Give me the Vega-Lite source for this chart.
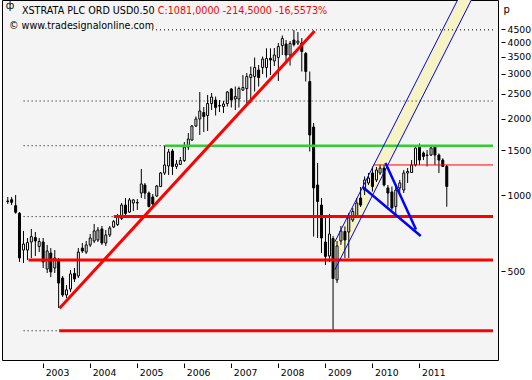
{
"$schema": "https://vega.github.io/schema/vega-lite/v6.json",
"width": 496, "height": 360,
"autosize": {"type": "none"},
"padding": {"left": 2, "top": 0, "right": 34, "bottom": 20},
"background": "#ffffff",
"config": {"view": {"fill": "#f4f4f4", "stroke": "#000000", "strokeWidth": 1}},
"datasets": {
"candles": [
{"date":"2002-04-01","open":947,"high":982,"low":922,"close":943},
{"date":"2002-05-01","open":958,"high":982,"low":913,"close":936},
{"date":"2002-06-01","open":908,"high":1000,"low":844,"close":855},
{"date":"2002-07-01","open":847,"high":857,"low":545,"close":565},
{"date":"2002-08-01","open":607,"high":722,"low":540,"close":641},
{"date":"2002-09-01","open":607,"high":677,"low":555,"close":650},
{"date":"2002-10-01","open":653,"high":735,"low":565,"close":686},
{"date":"2002-11-01","open":680,"high":715,"low":575,"close":659},
{"date":"2002-12-01","open":627,"high":677,"low":596,"close":656},
{"date":"2003-01-01","open":653,"high":677,"low":516,"close":545},
{"date":"2003-02-01","open":511,"high":636,"low":493,"close":602},
{"date":"2003-03-01","open":591,"high":618,"low":475,"close":498},
{"date":"2003-04-01","open":516,"high":607,"low":493,"close":565},
{"date":"2003-05-01","open":550,"high":565,"low":359,"close":450},
{"date":"2003-06-01","open":471,"high":480,"low":397,"close":404},
{"date":"2003-07-01","open":404,"high":442,"low":393,"close":423},
{"date":"2003-08-01","open":426,"high":507,"low":415,"close":489},
{"date":"2003-09-01","open":491,"high":516,"low":454,"close":467},
{"date":"2003-10-01","open":480,"high":618,"low":471,"close":596},
{"date":"2003-11-01","open":618,"high":647,"low":591,"close":602},
{"date":"2003-12-01","open":596,"high":659,"low":586,"close":636},
{"date":"2004-01-01","open":636,"high":702,"low":624,"close":677},
{"date":"2004-02-01","open":659,"high":769,"low":647,"close":722},
{"date":"2004-03-01","open":665,"high":748,"low":653,"close":728},
{"date":"2004-04-01","open":735,"high":755,"low":636,"close":647},
{"date":"2004-05-01","open":647,"high":728,"low":630,"close":696},
{"date":"2004-06-01","open":696,"high":755,"low":683,"close":741},
{"date":"2004-07-01","open":748,"high":797,"low":741,"close":786},
{"date":"2004-08-01","open":765,"high":842,"low":755,"close":819},
{"date":"2004-09-01","open":809,"high":930,"low":797,"close":913},
{"date":"2004-10-01","open":913,"high":973,"low":834,"close":846},
{"date":"2004-11-01","open":857,"high":973,"low":850,"close":956},
{"date":"2004-12-01","open":930,"high":964,"low":865,"close":956},
{"date":"2005-01-01","open":934,"high":964,"low":873,"close":930},
{"date":"2005-02-01","open":1018,"high":1266,"low":973,"close":1105},
{"date":"2005-03-01","open":1095,"high":1115,"low":964,"close":1018},
{"date":"2005-04-01","open":1018,"high":1032,"low":893,"close":901},
{"date":"2005-05-01","open":982,"high":1009,"low":905,"close":922},
{"date":"2005-06-01","open":991,"high":1095,"low":982,"close":1085},
{"date":"2005-07-01","open":1080,"high":1232,"low":1075,"close":1221},
{"date":"2005-08-01","open":1221,"high":1559,"low":1199,"close":1313},
{"date":"2005-09-01","open":1301,"high":1517,"low":1199,"close":1477},
{"date":"2005-10-01","open":1490,"high":1517,"low":1199,"close":1295},
{"date":"2005-11-01","open":1295,"high":1373,"low":1266,"close":1325},
{"date":"2005-12-01","open":1319,"high":1411,"low":1313,"close":1367},
{"date":"2006-01-01","open":1367,"high":1617,"low":1349,"close":1545},
{"date":"2006-02-01","open":1545,"high":1754,"low":1504,"close":1661},
{"date":"2006-03-01","open":1646,"high":1886,"low":1632,"close":1869},
{"date":"2006-04-01","open":1869,"high":2037,"low":1852,"close":1992},
{"date":"2006-05-01","open":1992,"high":2544,"low":1723,"close":2142},
{"date":"2006-06-01","open":2113,"high":2221,"low":1770,"close":2037},
{"date":"2006-07-01","open":2056,"high":2476,"low":1787,"close":2292},
{"date":"2006-08-01","open":2292,"high":2521,"low":2161,"close":2431},
{"date":"2006-09-01","open":2366,"high":2442,"low":2056,"close":2211},
{"date":"2006-10-01","open":2251,"high":2366,"low":2122,"close":2241},
{"date":"2006-11-01","open":2231,"high":2345,"low":2103,"close":2282},
{"date":"2006-12-01","open":2292,"high":2567,"low":2231,"close":2544},
{"date":"2007-01-01","open":2614,"high":2638,"low":2211,"close":2366},
{"date":"2007-02-01","open":2388,"high":2674,"low":2161,"close":2442},
{"date":"2007-03-01","open":2388,"high":2674,"low":2211,"close":2626},
{"date":"2007-04-01","open":2591,"high":2968,"low":2567,"close":2650},
{"date":"2007-05-01","open":2626,"high":3022,"low":2261,"close":2928},
{"date":"2007-06-01","open":2901,"high":3206,"low":2303,"close":2982},
{"date":"2007-07-01","open":2928,"high":3478,"low":2556,"close":3177},
{"date":"2007-08-01","open":3106,"high":3250,"low":2674,"close":2901},
{"date":"2007-09-01","open":3177,"high":3510,"low":2995,"close":3431},
{"date":"2007-10-01","open":3177,"high":3781,"low":2901,"close":3447},
{"date":"2007-11-01","open":3453,"high":3781,"low":2968,"close":3400},
{"date":"2007-12-01","open":3370,"high":3791,"low":3220,"close":3558},
{"date":"2008-01-01","open":3478,"high":3967,"low":2811,"close":3843},
{"date":"2008-02-01","open":3878,"high":4246,"low":3558,"close":4132},
{"date":"2008-03-01","open":3931,"high":4076,"low":3339,"close":3558},
{"date":"2008-04-01","open":3558,"high":4040,"low":3235,"close":3949},
{"date":"2008-05-01","open":4076,"high":4463,"low":3843,"close":3913},
{"date":"2008-06-01","open":3967,"high":4383,"low":3896,"close":4040},
{"date":"2008-07-01","open":3967,"high":4151,"low":3064,"close":3674},
{"date":"2008-08-01","open":3607,"high":3657,"low":2798,"close":3064},
{"date":"2008-09-01","open":2798,"high":3064,"low":1484,"close":1723},
{"date":"2008-10-01","open":1852,"high":1921,"low":686,"close":1066},
{"date":"2008-11-01","open":1095,"high":1337,"low":677,"close":943},
{"date":"2008-12-01","open":913,"high":973,"low":591,"close":677},
{"date":"2009-01-01","open":653,"high":823,"low":530,"close":573},
{"date":"2009-02-01","open":575,"high":842,"low":545,"close":702},
{"date":"2009-03-01","open":674,"high":690,"low":294,"close":469},
{"date":"2009-04-01","open":463,"high":659,"low":450,"close":630},
{"date":"2009-05-01","open":659,"high":755,"low":636,"close":722},
{"date":"2009-06-01","open":718,"high":752,"low":565,"close":665},
{"date":"2009-07-01","open":715,"high":850,"low":565,"close":812},
{"date":"2009-08-01","open":797,"high":889,"low":783,"close":861},
{"date":"2009-09-01","open":823,"high":973,"low":812,"close":930},
{"date":"2009-10-01","open":973,"high":1075,"low":897,"close":913},
{"date":"2009-11-01","open":1046,"high":1183,"low":1000,"close":1146},
{"date":"2009-12-01","open":1115,"high":1221,"low":1095,"close":1166},
{"date":"2010-01-01","open":1221,"high":1295,"low":1032,"close":1080},
{"date":"2010-02-01","open":1146,"high":1289,"low":1125,"close":1254},
{"date":"2010-03-01","open":1221,"high":1313,"low":1199,"close":1277},
{"date":"2010-04-01","open":1277,"high":1313,"low":1080,"close":1095},
{"date":"2010-05-01","open":1066,"high":1095,"low":901,"close":1018},
{"date":"2010-06-01","open":1028,"high":1080,"low":873,"close":889},
{"date":"2010-07-01","open":901,"high":1095,"low":834,"close":1046},
{"date":"2010-08-01","open":1066,"high":1146,"low":1028,"close":1115},
{"date":"2010-09-01","open":1046,"high":1254,"low":1018,"close":1221},
{"date":"2010-10-01","open":1221,"high":1277,"low":1115,"close":1238},
{"date":"2010-11-01","open":1226,"high":1373,"low":1221,"close":1313},
{"date":"2010-12-01","open":1313,"high":1573,"low":1295,"close":1531},
{"date":"2011-01-01","open":1545,"high":1595,"low":1313,"close":1373},
{"date":"2011-02-01","open":1464,"high":1484,"low":1373,"close":1418},
{"date":"2011-03-01","open":1437,"high":1504,"low":1295,"close":1431},
{"date":"2011-04-01","open":1437,"high":1559,"low":1424,"close":1531},
{"date":"2011-05-01","open":1545,"high":1552,"low":1313,"close":1437},
{"date":"2011-06-01","open":1437,"high":1457,"low":1221,"close":1373},
{"date":"2011-07-01","open":1373,"high":1395,"low":1289,"close":1295.5},
{"date":"2011-08-01","open":1295.5,"high":1313,"low":899,"close":1081}
],
"dotted": [
{"start":"2005-04-25","end":"2012-07-25","price":4470},
{"start":"2002-08-02","end":"2012-07-25","price":2345},
{"start":"2002-08-02","end":"2005-08-04","price":1564},
{"start":"2002-08-02","end":"2004-07-02","price":822},
{"start":"2002-08-02","end":"2003-05-05","price":292}
],
"redLevels": [
{"start":"2004-07-02","end":"2012-07-25","price":822},
{"start":"2002-09-09","end":"2012-07-25","price":555},
{"start":"2003-05-05","end":"2012-07-25","price":292}
],
"greenLevel": [{"start":"2005-08-04","end":"2012-07-25","price":1564}],
"thinRed": [{"start":"2010-01-08","end":"2012-07-25","price":1313}],
"trend": [{"start":"2003-05-08","p1":358,"end":"2008-10-09","p2":4423}],
"channel": [
{"date":"2009-03-14","upper":653,"lower":507},
{"date":"2012-02-08","upper":7496,"lower":5860}
],
"channelLines": [
{"start":"2009-03-14","p1":653,"end":"2012-02-08","p2":7496},
{"start":"2009-03-14","p1":507,"end":"2012-02-08","p2":5860}
],
"blueThick": [
{"start":"2009-10-17","p1":1075,"end":"2011-01-11","p2":690},
{"start":"2010-04-12","p1":1337,"end":"2010-12-05","p2":732}
]
},
"layer": [
{"data": {"name": "channel"},
 "mark": {"type": "area", "fill": "#f6f4c4", "clip": true},
 "encoding": {
  "x": {"field": "date", "type": "temporal", "scale": {"type": "utc", "domain": [{"year":2002,"month":3,"date":26,"utc":true},{"year":2012,"month":7,"date":25,"utc":true}]},
        "axis": {"title": null, "values": [{"year":2003,"utc":true},{"year":2004,"utc":true},{"year":2005,"utc":true},{"year":2006,"utc":true},{"year":2007,"utc":true},{"year":2008,"utc":true},{"year":2009,"utc":true},{"year":2010,"utc":true},{"year":2011,"utc":true}], "format": "%Y", "formatType": "utc", "domain": false, "grid": false, "tickSize": 4.5, "tickColor": "#000000", "offset": 3, "labelAlign": "left", "labelBaseline": "top", "labelOffset": 2, "labelPadding": 1, "labelFont": "DejaVu Sans", "labelFontSize": 9.3, "labelColor": "#000000", "labelFlush": false, "labelOverlap": false}},
  "y": {"field": "upper", "type": "quantitative", "scale": {"type": "log", "domain": [224, 5860], "nice": false},
        "axis": {"orient": "right", "title": "p", "titleAngle": 0, "titleAlign": "left", "titleBaseline": "alphabetic", "titleX": 2, "titleY": 12, "titleFont": "DejaVu Sans", "titleFontSize": 10, "titleFontWeight": "normal", "titleColor": "#000000", "values": [500,1000,1500,2000,2500,3000,3500,4000,4500], "format": "d", "domain": false, "grid": false, "tickSize": 4, "tickColor": "#000000", "offset": 3, "labelPadding": 2, "labelFont": "DejaVu Sans", "labelFontSize": 9.3, "labelColor": "#000000", "labelFlush": false, "labelOverlap": false}},
  "y2": {"field": "lower"}
 }},
{"data": {"name": "candles"},
 "mark": {"type": "rule", "color": "#000000", "strokeWidth": 1},
 "encoding": {
  "x": {"field": "date", "type": "temporal", "scale": {"type": "utc", "domain": [{"year":2002,"month":3,"date":26,"utc":true},{"year":2012,"month":7,"date":25,"utc":true}]},
        "axis": {"title": null, "values": [{"year":2003,"utc":true},{"year":2004,"utc":true},{"year":2005,"utc":true},{"year":2006,"utc":true},{"year":2007,"utc":true},{"year":2008,"utc":true},{"year":2009,"utc":true},{"year":2010,"utc":true},{"year":2011,"utc":true}], "format": "%Y", "formatType": "utc", "domain": false, "grid": false, "tickSize": 4.5, "tickColor": "#000000", "offset": 3, "labelAlign": "left", "labelBaseline": "top", "labelOffset": 2, "labelPadding": 1, "labelFont": "DejaVu Sans", "labelFontSize": 9.3, "labelColor": "#000000", "labelFlush": false, "labelOverlap": false}},
  "y": {"field": "low", "type": "quantitative", "scale": {"type": "log", "domain": [224, 5860], "nice": false},
        "axis": {"orient": "right", "title": "p", "titleAngle": 0, "titleAlign": "left", "titleBaseline": "alphabetic", "titleX": 2, "titleY": 12, "titleFont": "DejaVu Sans", "titleFontSize": 10, "titleFontWeight": "normal", "titleColor": "#000000", "values": [500,1000,1500,2000,2500,3000,3500,4000,4500], "format": "d", "domain": false, "grid": false, "tickSize": 4, "tickColor": "#000000", "offset": 3, "labelPadding": 2, "labelFont": "DejaVu Sans", "labelFontSize": 9.3, "labelColor": "#000000", "labelFlush": false, "labelOverlap": false}},
  "y2": {"field": "high"}
 }},
{"data": {"name": "candles"},
 "mark": {"type": "bar", "size": 2, "stroke": "#000000", "strokeWidth": 1, "orient": "vertical"},
 "encoding": {
  "x": {"field": "date", "type": "temporal", "scale": {"type": "utc", "domain": [{"year":2002,"month":3,"date":26,"utc":true},{"year":2012,"month":7,"date":25,"utc":true}]},
        "axis": {"title": null, "values": [{"year":2003,"utc":true},{"year":2004,"utc":true},{"year":2005,"utc":true},{"year":2006,"utc":true},{"year":2007,"utc":true},{"year":2008,"utc":true},{"year":2009,"utc":true},{"year":2010,"utc":true},{"year":2011,"utc":true}], "format": "%Y", "formatType": "utc", "domain": false, "grid": false, "tickSize": 4.5, "tickColor": "#000000", "offset": 3, "labelAlign": "left", "labelBaseline": "top", "labelOffset": 2, "labelPadding": 1, "labelFont": "DejaVu Sans", "labelFontSize": 9.3, "labelColor": "#000000", "labelFlush": false, "labelOverlap": false}},
  "y": {"field": "open", "type": "quantitative", "scale": {"type": "log", "domain": [224, 5860], "nice": false},
        "axis": {"orient": "right", "title": "p", "titleAngle": 0, "titleAlign": "left", "titleBaseline": "alphabetic", "titleX": 2, "titleY": 12, "titleFont": "DejaVu Sans", "titleFontSize": 10, "titleFontWeight": "normal", "titleColor": "#000000", "values": [500,1000,1500,2000,2500,3000,3500,4000,4500], "format": "d", "domain": false, "grid": false, "tickSize": 4, "tickColor": "#000000", "offset": 3, "labelPadding": 2, "labelFont": "DejaVu Sans", "labelFontSize": 9.3, "labelColor": "#000000", "labelFlush": false, "labelOverlap": false}},
  "y2": {"field": "close"},
  "fill": {"condition": {"test": "datum.close >= datum.open", "value": "#ffffff"}, "value": "#000000"}
 }},
{"data": {"name": "dotted"},
 "mark": {"type": "rule", "color": "#000000", "strokeWidth": 1, "strokeDash": [1, 3]},
 "encoding": {
  "x": {"field": "start", "type": "temporal", "scale": {"type": "utc", "domain": [{"year":2002,"month":3,"date":26,"utc":true},{"year":2012,"month":7,"date":25,"utc":true}]},
        "axis": {"title": null, "values": [{"year":2003,"utc":true},{"year":2004,"utc":true},{"year":2005,"utc":true},{"year":2006,"utc":true},{"year":2007,"utc":true},{"year":2008,"utc":true},{"year":2009,"utc":true},{"year":2010,"utc":true},{"year":2011,"utc":true}], "format": "%Y", "formatType": "utc", "domain": false, "grid": false, "tickSize": 4.5, "tickColor": "#000000", "offset": 3, "labelAlign": "left", "labelBaseline": "top", "labelOffset": 2, "labelPadding": 1, "labelFont": "DejaVu Sans", "labelFontSize": 9.3, "labelColor": "#000000", "labelFlush": false, "labelOverlap": false}},
  "x2": {"field": "end"},
  "y": {"field": "price", "type": "quantitative", "scale": {"type": "log", "domain": [224, 5860], "nice": false},
        "axis": {"orient": "right", "title": "p", "titleAngle": 0, "titleAlign": "left", "titleBaseline": "alphabetic", "titleX": 2, "titleY": 12, "titleFont": "DejaVu Sans", "titleFontSize": 10, "titleFontWeight": "normal", "titleColor": "#000000", "values": [500,1000,1500,2000,2500,3000,3500,4000,4500], "format": "d", "domain": false, "grid": false, "tickSize": 4, "tickColor": "#000000", "offset": 3, "labelPadding": 2, "labelFont": "DejaVu Sans", "labelFontSize": 9.3, "labelColor": "#000000", "labelFlush": false, "labelOverlap": false}}
 }},
{"data": {"name": "redLevels"},
 "mark": {"type": "rule", "color": "#ff0000", "strokeWidth": 3},
 "encoding": {
  "x": {"field": "start", "type": "temporal", "scale": {"type": "utc", "domain": [{"year":2002,"month":3,"date":26,"utc":true},{"year":2012,"month":7,"date":25,"utc":true}]},
        "axis": {"title": null, "values": [{"year":2003,"utc":true},{"year":2004,"utc":true},{"year":2005,"utc":true},{"year":2006,"utc":true},{"year":2007,"utc":true},{"year":2008,"utc":true},{"year":2009,"utc":true},{"year":2010,"utc":true},{"year":2011,"utc":true}], "format": "%Y", "formatType": "utc", "domain": false, "grid": false, "tickSize": 4.5, "tickColor": "#000000", "offset": 3, "labelAlign": "left", "labelBaseline": "top", "labelOffset": 2, "labelPadding": 1, "labelFont": "DejaVu Sans", "labelFontSize": 9.3, "labelColor": "#000000", "labelFlush": false, "labelOverlap": false}},
  "x2": {"field": "end"},
  "y": {"field": "price", "type": "quantitative", "scale": {"type": "log", "domain": [224, 5860], "nice": false},
        "axis": {"orient": "right", "title": "p", "titleAngle": 0, "titleAlign": "left", "titleBaseline": "alphabetic", "titleX": 2, "titleY": 12, "titleFont": "DejaVu Sans", "titleFontSize": 10, "titleFontWeight": "normal", "titleColor": "#000000", "values": [500,1000,1500,2000,2500,3000,3500,4000,4500], "format": "d", "domain": false, "grid": false, "tickSize": 4, "tickColor": "#000000", "offset": 3, "labelPadding": 2, "labelFont": "DejaVu Sans", "labelFontSize": 9.3, "labelColor": "#000000", "labelFlush": false, "labelOverlap": false}}
 }},
{"data": {"name": "greenLevel"},
 "mark": {"type": "rule", "color": "#33cc33", "strokeWidth": 2.5},
 "encoding": {
  "x": {"field": "start", "type": "temporal", "scale": {"type": "utc", "domain": [{"year":2002,"month":3,"date":26,"utc":true},{"year":2012,"month":7,"date":25,"utc":true}]},
        "axis": {"title": null, "values": [{"year":2003,"utc":true},{"year":2004,"utc":true},{"year":2005,"utc":true},{"year":2006,"utc":true},{"year":2007,"utc":true},{"year":2008,"utc":true},{"year":2009,"utc":true},{"year":2010,"utc":true},{"year":2011,"utc":true}], "format": "%Y", "formatType": "utc", "domain": false, "grid": false, "tickSize": 4.5, "tickColor": "#000000", "offset": 3, "labelAlign": "left", "labelBaseline": "top", "labelOffset": 2, "labelPadding": 1, "labelFont": "DejaVu Sans", "labelFontSize": 9.3, "labelColor": "#000000", "labelFlush": false, "labelOverlap": false}},
  "x2": {"field": "end"},
  "y": {"field": "price", "type": "quantitative", "scale": {"type": "log", "domain": [224, 5860], "nice": false},
        "axis": {"orient": "right", "title": "p", "titleAngle": 0, "titleAlign": "left", "titleBaseline": "alphabetic", "titleX": 2, "titleY": 12, "titleFont": "DejaVu Sans", "titleFontSize": 10, "titleFontWeight": "normal", "titleColor": "#000000", "values": [500,1000,1500,2000,2500,3000,3500,4000,4500], "format": "d", "domain": false, "grid": false, "tickSize": 4, "tickColor": "#000000", "offset": 3, "labelPadding": 2, "labelFont": "DejaVu Sans", "labelFontSize": 9.3, "labelColor": "#000000", "labelFlush": false, "labelOverlap": false}}
 }},
{"data": {"name": "thinRed"},
 "mark": {"type": "rule", "color": "#ff0000", "strokeWidth": 1},
 "encoding": {
  "x": {"field": "start", "type": "temporal", "scale": {"type": "utc", "domain": [{"year":2002,"month":3,"date":26,"utc":true},{"year":2012,"month":7,"date":25,"utc":true}]},
        "axis": {"title": null, "values": [{"year":2003,"utc":true},{"year":2004,"utc":true},{"year":2005,"utc":true},{"year":2006,"utc":true},{"year":2007,"utc":true},{"year":2008,"utc":true},{"year":2009,"utc":true},{"year":2010,"utc":true},{"year":2011,"utc":true}], "format": "%Y", "formatType": "utc", "domain": false, "grid": false, "tickSize": 4.5, "tickColor": "#000000", "offset": 3, "labelAlign": "left", "labelBaseline": "top", "labelOffset": 2, "labelPadding": 1, "labelFont": "DejaVu Sans", "labelFontSize": 9.3, "labelColor": "#000000", "labelFlush": false, "labelOverlap": false}},
  "x2": {"field": "end"},
  "y": {"field": "price", "type": "quantitative", "scale": {"type": "log", "domain": [224, 5860], "nice": false},
        "axis": {"orient": "right", "title": "p", "titleAngle": 0, "titleAlign": "left", "titleBaseline": "alphabetic", "titleX": 2, "titleY": 12, "titleFont": "DejaVu Sans", "titleFontSize": 10, "titleFontWeight": "normal", "titleColor": "#000000", "values": [500,1000,1500,2000,2500,3000,3500,4000,4500], "format": "d", "domain": false, "grid": false, "tickSize": 4, "tickColor": "#000000", "offset": 3, "labelPadding": 2, "labelFont": "DejaVu Sans", "labelFontSize": 9.3, "labelColor": "#000000", "labelFlush": false, "labelOverlap": false}}
 }},
{"data": {"name": "trend"},
 "mark": {"type": "rule", "color": "#ff0000", "strokeWidth": 3},
 "encoding": {
  "x": {"field": "start", "type": "temporal", "scale": {"type": "utc", "domain": [{"year":2002,"month":3,"date":26,"utc":true},{"year":2012,"month":7,"date":25,"utc":true}]},
        "axis": {"title": null, "values": [{"year":2003,"utc":true},{"year":2004,"utc":true},{"year":2005,"utc":true},{"year":2006,"utc":true},{"year":2007,"utc":true},{"year":2008,"utc":true},{"year":2009,"utc":true},{"year":2010,"utc":true},{"year":2011,"utc":true}], "format": "%Y", "formatType": "utc", "domain": false, "grid": false, "tickSize": 4.5, "tickColor": "#000000", "offset": 3, "labelAlign": "left", "labelBaseline": "top", "labelOffset": 2, "labelPadding": 1, "labelFont": "DejaVu Sans", "labelFontSize": 9.3, "labelColor": "#000000", "labelFlush": false, "labelOverlap": false}},
  "x2": {"field": "end"},
  "y": {"field": "p1", "type": "quantitative", "scale": {"type": "log", "domain": [224, 5860], "nice": false},
        "axis": {"orient": "right", "title": "p", "titleAngle": 0, "titleAlign": "left", "titleBaseline": "alphabetic", "titleX": 2, "titleY": 12, "titleFont": "DejaVu Sans", "titleFontSize": 10, "titleFontWeight": "normal", "titleColor": "#000000", "values": [500,1000,1500,2000,2500,3000,3500,4000,4500], "format": "d", "domain": false, "grid": false, "tickSize": 4, "tickColor": "#000000", "offset": 3, "labelPadding": 2, "labelFont": "DejaVu Sans", "labelFontSize": 9.3, "labelColor": "#000000", "labelFlush": false, "labelOverlap": false}},
  "y2": {"field": "p2"}
 }},
{"data": {"name": "channelLines"},
 "mark": {"type": "rule", "color": "#0000ff", "strokeWidth": 1, "clip": true},
 "encoding": {
  "x": {"field": "start", "type": "temporal", "scale": {"type": "utc", "domain": [{"year":2002,"month":3,"date":26,"utc":true},{"year":2012,"month":7,"date":25,"utc":true}]},
        "axis": {"title": null, "values": [{"year":2003,"utc":true},{"year":2004,"utc":true},{"year":2005,"utc":true},{"year":2006,"utc":true},{"year":2007,"utc":true},{"year":2008,"utc":true},{"year":2009,"utc":true},{"year":2010,"utc":true},{"year":2011,"utc":true}], "format": "%Y", "formatType": "utc", "domain": false, "grid": false, "tickSize": 4.5, "tickColor": "#000000", "offset": 3, "labelAlign": "left", "labelBaseline": "top", "labelOffset": 2, "labelPadding": 1, "labelFont": "DejaVu Sans", "labelFontSize": 9.3, "labelColor": "#000000", "labelFlush": false, "labelOverlap": false}},
  "x2": {"field": "end"},
  "y": {"field": "p1", "type": "quantitative", "scale": {"type": "log", "domain": [224, 5860], "nice": false},
        "axis": {"orient": "right", "title": "p", "titleAngle": 0, "titleAlign": "left", "titleBaseline": "alphabetic", "titleX": 2, "titleY": 12, "titleFont": "DejaVu Sans", "titleFontSize": 10, "titleFontWeight": "normal", "titleColor": "#000000", "values": [500,1000,1500,2000,2500,3000,3500,4000,4500], "format": "d", "domain": false, "grid": false, "tickSize": 4, "tickColor": "#000000", "offset": 3, "labelPadding": 2, "labelFont": "DejaVu Sans", "labelFontSize": 9.3, "labelColor": "#000000", "labelFlush": false, "labelOverlap": false}},
  "y2": {"field": "p2"}
 }},
{"data": {"name": "blueThick"},
 "mark": {"type": "rule", "color": "#0000ff", "strokeWidth": 2.5},
 "encoding": {
  "x": {"field": "start", "type": "temporal", "scale": {"type": "utc", "domain": [{"year":2002,"month":3,"date":26,"utc":true},{"year":2012,"month":7,"date":25,"utc":true}]},
        "axis": {"title": null, "values": [{"year":2003,"utc":true},{"year":2004,"utc":true},{"year":2005,"utc":true},{"year":2006,"utc":true},{"year":2007,"utc":true},{"year":2008,"utc":true},{"year":2009,"utc":true},{"year":2010,"utc":true},{"year":2011,"utc":true}], "format": "%Y", "formatType": "utc", "domain": false, "grid": false, "tickSize": 4.5, "tickColor": "#000000", "offset": 3, "labelAlign": "left", "labelBaseline": "top", "labelOffset": 2, "labelPadding": 1, "labelFont": "DejaVu Sans", "labelFontSize": 9.3, "labelColor": "#000000", "labelFlush": false, "labelOverlap": false}},
  "x2": {"field": "end"},
  "y": {"field": "p1", "type": "quantitative", "scale": {"type": "log", "domain": [224, 5860], "nice": false},
        "axis": {"orient": "right", "title": "p", "titleAngle": 0, "titleAlign": "left", "titleBaseline": "alphabetic", "titleX": 2, "titleY": 12, "titleFont": "DejaVu Sans", "titleFontSize": 10, "titleFontWeight": "normal", "titleColor": "#000000", "values": [500,1000,1500,2000,2500,3000,3500,4000,4500], "format": "d", "domain": false, "grid": false, "tickSize": 4, "tickColor": "#000000", "offset": 3, "labelPadding": 2, "labelFont": "DejaVu Sans", "labelFontSize": 9.3, "labelColor": "#000000", "labelFlush": false, "labelOverlap": false}},
  "y2": {"field": "p2"}
 }},
{"data": {"values": [{"label": "ф"}]},
 "mark": {"type": "text", "align": "center", "baseline": "alphabetic", "font": "DejaVu Sans", "fontSize": 10, "color": "#000000"},
 "encoding": {
  "x": {"datum": {"year":2002,"month":4,"date":18,"utc":true}, "type": "temporal"},
  "y": {"datum": 5398, "type": "quantitative"},
  "text": {"field": "label"}
 }},
{"data": {"values": [{"label": "XSTRATA PLC ORD USD0.50"}]},
 "mark": {"type": "text", "align": "left", "baseline": "alphabetic", "font": "DejaVu Sans", "fontSize": 9.6, "color": "#000000"},
 "encoding": {
  "x": {"datum": {"year":2002,"month":7,"date":20,"utc":true}, "type": "temporal"},
  "y": {"datum": 5160, "type": "quantitative"},
  "text": {"field": "label"}
 }},
{"data": {"values": [{"label": "C:1081,0000 -214,5000 -16,5573%"}]},
 "mark": {"type": "text", "align": "left", "baseline": "alphabetic", "font": "DejaVu Sans", "fontSize": 9.6, "color": "#ff0000"},
 "encoding": {
  "x": {"datum": {"year":2005,"month":6,"date":9,"utc":true}, "type": "temporal"},
  "y": {"datum": 5160, "type": "quantitative"},
  "text": {"field": "label"}
 }},
{"data": {"values": [{"label": "© www.tradesignalonline.com"}]},
 "mark": {"type": "text", "align": "left", "baseline": "alphabetic", "font": "DejaVu Sans", "fontSize": 9.6, "color": "#000000"},
 "encoding": {
  "x": {"datum": {"year":2002,"month":4,"date":10,"utc":true}, "type": "temporal"},
  "y": {"datum": 4524, "type": "quantitative"},
  "text": {"field": "label"}
 }}
]
}
